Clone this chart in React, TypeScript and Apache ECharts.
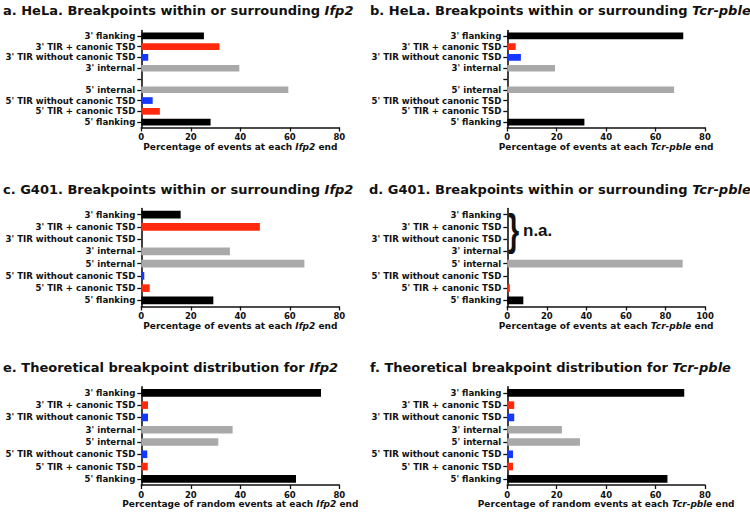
import React, { useEffect, useRef } from "react";
import * as echarts from "echarts";

const catsWithGap = [
  "3' flanking",
  "3' TIR + canonic TSD",
  "3' TIR without canonic TSD",
  "3' internal",
  "",
  "5' internal",
  "5' TIR without canonic TSD",
  "5' TIR + canonic TSD",
  "5' flanking",
];
const cats = [
  "3' flanking",
  "3' TIR + canonic TSD",
  "3' TIR without canonic TSD",
  "3' internal",
  "5' internal",
  "5' TIR without canonic TSD",
  "5' TIR + canonic TSD",
  "5' flanking",
];
const kindsWithGap = ["flank", "tir", "notsd", "internal", "none", "internal", "notsd", "tir", "flank"];
const kinds = ["flank", "tir", "notsd", "internal", "internal", "notsd", "tir", "flank"];

const valuesA = [25.3, 31.6, 2.8, 39.6, null, 59.4, 4.6, 7.5, 28.0];
const valuesB = [71.2, 3.4, 5.5, 19.3, null, 67.5, 0, 0, 31.2];
const valuesC = [15.9, 47.9, 0, 35.8, 65.9, 1.2, 3.4, 29.1];
const valuesD = [null, null, null, null, 88.7, 0, 1.3, 8.1];
const valuesE = [72.6, 2.7, 2.7, 36.9, 31.1, 2.4, 2.6, 62.5];
const valuesF = [71.6, 2.8, 2.8, 22.1, 29.4, 2.3, 2.3, 64.8];

const titles = [
  "a. HeLa. Breakpoints within or surrounding {i|Ifp2}",
  "b. HeLa. Breakpoints within or surrounding {i|Tcr-pble}",
  "c. G401. Breakpoints within or surrounding {i|Ifp2}",
  "d. G401. Breakpoints within or surrounding {i|Tcr-pble}",
  "e. Theoretical breakpoint distribution for {i|Ifp2}",
  "f. Theoretical breakpoint distribution for {i|Tcr-pble}",
];
const axisNames = [
  "Percentage of events at each {i|Ifp2} end",
  "Percentage of events at each {i|Tcr-pble} end",
  "Percentage of events at each {i|Ifp2} end",
  "Percentage of events at each {i|Tcr-pble} end",
  "Percentage of random events at each {i|Ifp2} end",
  "Percentage of random events at each {i|Tcr-pble} end",
];
const axisMax = [80, 80, 80, 100, 80, 80];

const colorOf: Record<string, string> = {
  flank: "#000000",
  tir: "#ff2a0d",
  notsd: "#1438ff",
  internal: "#a9a9a9",
  none: "#ffffff",
};

const FONT = "DejaVu Sans";

export default function App() {
  const ref = useRef<HTMLDivElement>(null);
  useEffect(() => {
    if (!ref.current) return;
    const chart = echarts.init(ref.current, undefined, { renderer: "svg" });

    const grids = [
      { left: 141.3, top: 30.5, width: 198, height: 97 },
      { left: 507.3, top: 30.5, width: 197.7, height: 97 },
      { left: 141.3, top: 208.5, width: 198, height: 98 },
      { left: 507.3, top: 208.5, width: 197.7, height: 98 },
      { left: 141.3, top: 386.7, width: 198, height: 98.3 },
      { left: 507.3, top: 386.7, width: 197.7, height: 98.3 },
    ];
    const titlePos = [
      { left: 3, cy: 10 },
      { left: 370, cy: 10 },
      { left: 3, cy: 189.3 },
      { left: 369, cy: 189.3 },
      { left: 3, cy: 367.3 },
      { left: 370, cy: 367.3 },
    ];
    const allValues = [valuesA, valuesB, valuesC, valuesD, valuesE, valuesF];
    const allCats = [catsWithGap, catsWithGap, cats, cats, cats, cats];
    const allKinds = [kindsWithGap, kindsWithGap, kinds, kinds, kinds, kinds];

    const italicRich = (size: number) => ({
      i: { fontFamily: FONT, fontWeight: "bold", fontStyle: "italic", fontSize: size, color: "#111" },
    });

    const option: any = {
      animation: false,
      backgroundColor: "#ffffff",
      title: titles.map((t, i) => ({
        text: t,
        left: titlePos[i].left,
        top: titlePos[i].cy - 8,
        padding: 0,
        textStyle: {
          fontFamily: FONT,
          fontWeight: "bold",
          fontSize: 13,
          lineHeight: 16,
          color: "#111",
          rich: italicRich(13),
        },
      })),
      grid: grids.map((g) => ({ ...g, containLabel: false })),
      xAxis: grids.map((_, i) => ({
        gridIndex: i,
        type: "value",
        min: 0,
        max: axisMax[i],
        interval: 20,
        splitLine: { show: false },
        axisLine: { show: true, lineStyle: { color: "#111", width: 1.6 } },
        axisTick: { show: true, length: 4, lineStyle: { color: "#111", width: 1.3 } },
        axisLabel: { fontFamily: FONT, fontWeight: "bold", fontSize: 8.5, color: "#111", margin: 5 },
        name: axisNames[i],
        nameLocation: "middle",
        nameGap: 14.5,
        nameTextStyle: {
          fontFamily: FONT,
          fontWeight: "bold",
          fontSize: 9,
          color: "#111",
          verticalAlign: "top",
          rich: italicRich(9),
        },
      })),
      yAxis: grids.map((_, i) => ({
        gridIndex: i,
        type: "category",
        inverse: true,
        data: allCats[i],
        axisLine: { show: true, lineStyle: { color: "#111", width: 1.6 } },
        axisTick: { show: true, alignWithLabel: true, length: 4, lineStyle: { color: "#111", width: 1.3 } },
        axisLabel: { interval: 0, fontFamily: FONT, fontWeight: "bold", fontSize: 8.6, color: "#111", margin: 6 },
        splitLine: { show: false },
      })),
      series: allValues.map((vals, i) => ({
        type: "bar",
        xAxisIndex: i,
        yAxisIndex: i,
        barWidth: "62%",
        data: vals.map((v, k) => ({ value: v, itemStyle: { color: colorOf[allKinds[i][k]] } })),
      })),
      graphic: [
        {
          type: "text",
          x: 513.5,
          y: 229.5,
          scaleX: 0.65,
          style: {
            text: "}",
            fontFamily: "Liberation Sans",
            fontWeight: "bold",
            fontSize: 44,
            fill: "#111",
            align: "center",
            verticalAlign: "middle",
          },
        },
        {
          type: "text",
          x: 523,
          y: 230,
          style: {
            text: "n.a.",
            fontFamily: "Liberation Sans",
            fontWeight: "bold",
            fontSize: 17,
            fill: "#111",
            align: "left",
            verticalAlign: "middle",
          },
        },
      ],
    };
    chart.setOption(option);
    return () => chart.dispose();
  }, []);
  return <div ref={ref} style={{ position: "fixed", left: 0, top: 0, width: 750, height: 513 }} />;
}
